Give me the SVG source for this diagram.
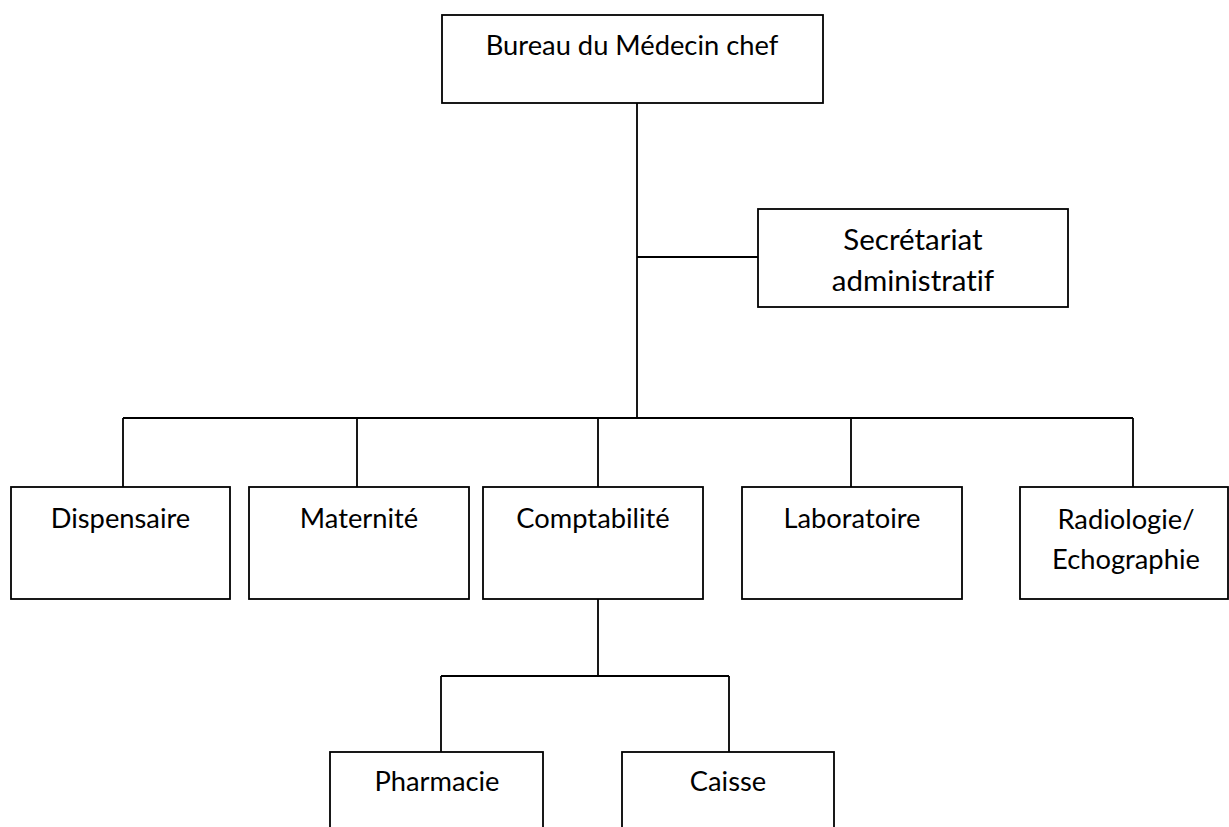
<svg xmlns="http://www.w3.org/2000/svg" width="1229" height="827" viewBox="0 0 1229 827">
<style>
.box{fill:#fff;stroke:#000;stroke-width:1.8}
.ln{fill:none;stroke:#000;stroke-width:1.8}
text{font-family:Lato,"Open Sans","Liberation Sans",sans-serif;font-size:27.3px;fill:#000;text-anchor:middle;font-variant-ligatures:none;font-feature-settings:"liga" 0,"clig" 0}
.big{font-size:29.5px}
</style>
<rect width="1229" height="827" fill="#fff"/>
<g id="connectors">
<path class="ln" d="M637 103V418M637 257H758M123 418H1133M123 418V487M357 418V487M598 418V487M851 418V487M1133 418V487M598 599V676M441 676H729M441 676V752M729 676V752"/>
</g>
<g id="n-bureau"><rect class="box" x="442" y="15" width="381" height="88"/><text x="632" y="55">Bureau du Médecin chef</text></g>
<g id="n-secretariat"><rect class="box" x="758" y="209" width="310" height="98"/><text class="big" x="913" y="250">Secrétariat</text><text class="big" x="913" y="291">administratif</text></g>
<g id="n-dispensaire"><rect class="box" x="11" y="487" width="219" height="112"/><text x="120.5" y="528">Dispensaire</text></g>
<g id="n-maternite"><rect class="box" x="249" y="487" width="220" height="112"/><text x="359" y="528">Maternité</text></g>
<g id="n-comptabilite"><rect class="box" x="483" y="487" width="220" height="112"/><text x="593" y="528">Comptabilité</text></g>
<g id="n-laboratoire"><rect class="box" x="742" y="487" width="220" height="112"/><text x="852" y="528">Laboratoire</text></g>
<g id="n-radiologie"><rect class="box" x="1020" y="487" width="208" height="112"/><text x="1126" y="529">Radiologie/</text><text x="1126" y="569">Echographie</text></g>
<g id="n-pharmacie"><rect class="box" x="330" y="752" width="213" height="90"/><text x="437" y="791">Pharmacie</text></g>
<g id="n-caisse"><rect class="box" x="622" y="752" width="212" height="90"/><text x="728" y="791">Caisse</text></g>
</svg>
